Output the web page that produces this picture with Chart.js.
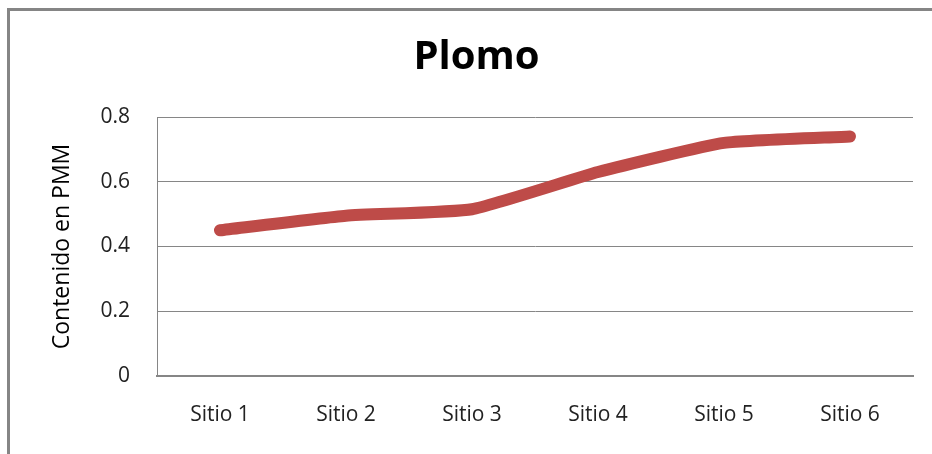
<!DOCTYPE html>
<html>
<head>
<meta charset="utf-8">
<script src="https://cdn.jsdelivr.net/npm/chart.js@4/dist/chart.umd.min.js"></script>
<style>
  html, body { margin: 0; padding: 0; background: #fff; }
  #wrap { width: 932px; height: 454px; position: relative; }
</style>
</head>
<body>
<div id="wrap"><canvas id="chart"></canvas></div>
<script>
// Lead content per site
const sites = ['Sitio 1', 'Sitio 2', 'Sitio 3', 'Sitio 4', 'Sitio 5', 'Sitio 6']
const plomo = [0.45, 0.495, 0.515, 0.63, 0.72, 0.74]
const yTicks = [0, 0.2, 0.4, 0.6, 0.8]

const FONT = '"Open Sans", sans-serif'

// grey frame around the chart, only left and top edges are in view
const frame = {
  id: 'frame',
  beforeDraw (chart) {
    const ctx = chart.ctx
    ctx.save()
    ctx.strokeStyle = '#858585'
    ctx.lineWidth = 3
    ctx.beginPath()
    ctx.moveTo(8.5, chart.height)
    ctx.lineTo(8.5, 9.5)
    ctx.lineTo(chart.width, 9.5)
    ctx.stroke()
    ctx.restore()
  }
}

window.onload = () => {
  render()
}

function render () {
  const ctx = document.getElementById('chart').getContext('2d')
  new Chart(ctx, {
    type: 'line',
    data: {
      labels: sites,
      datasets: [{
        label: 'Plomo',
        data: plomo,
        borderColor: '#BE4B48',
        backgroundColor: '#BE4B48',
        borderWidth: 12,
        borderCapStyle: 'round',
        borderJoinStyle: 'round',
        pointRadius: 0,
        tension: 0.15
      }]
    },
    plugins: [frame],
    options: {
      responsive: true,
      maintainAspectRatio: false,
      animation: false,
      layout: { padding: { left: 40, right: 19, top: 0, bottom: 0 } },
      plugins: {
        legend: { display: false },
        tooltip: { enabled: false },
        title: {
          display: true,
          text: 'Plomo',
          color: '#000',
          font: { family: FONT, size: 40, weight: 'bold', lineHeight: 1.2 },
          padding: { top: 34, bottom: 35 }
        }
      },
      scales: {
        x: {
          offset: true,
          grid: { display: false, drawTicks: false },
          border: { display: true, color: '#868686', width: 2 },
          ticks: { color: '#222', font: { family: FONT, size: 21 }, padding: 26, maxRotation: 0 },
          afterFit (scale) { scale.height = 78 }
        },
        y: {
          min: 0,
          max: 0.8,
          afterBuildTicks (scale) { scale.ticks = yTicks.map(v => ({ value: v })) },
          grid: { color: '#868686', lineWidth: 1, drawTicks: false },
          border: { display: true, color: '#868686', width: 1 },
          ticks: { color: '#222', font: { family: FONT, size: 21 }, padding: 27 },
          title: {
            display: true,
            text: 'Contenido en PMM',
            color: '#000',
            font: { family: FONT, size: 23 },
            padding: { top: 9, bottom: 0 }
          },
          afterFit (scale) { scale.width = 117 }
        }
      }
    }
  })
}
</script>
</body>
</html>
